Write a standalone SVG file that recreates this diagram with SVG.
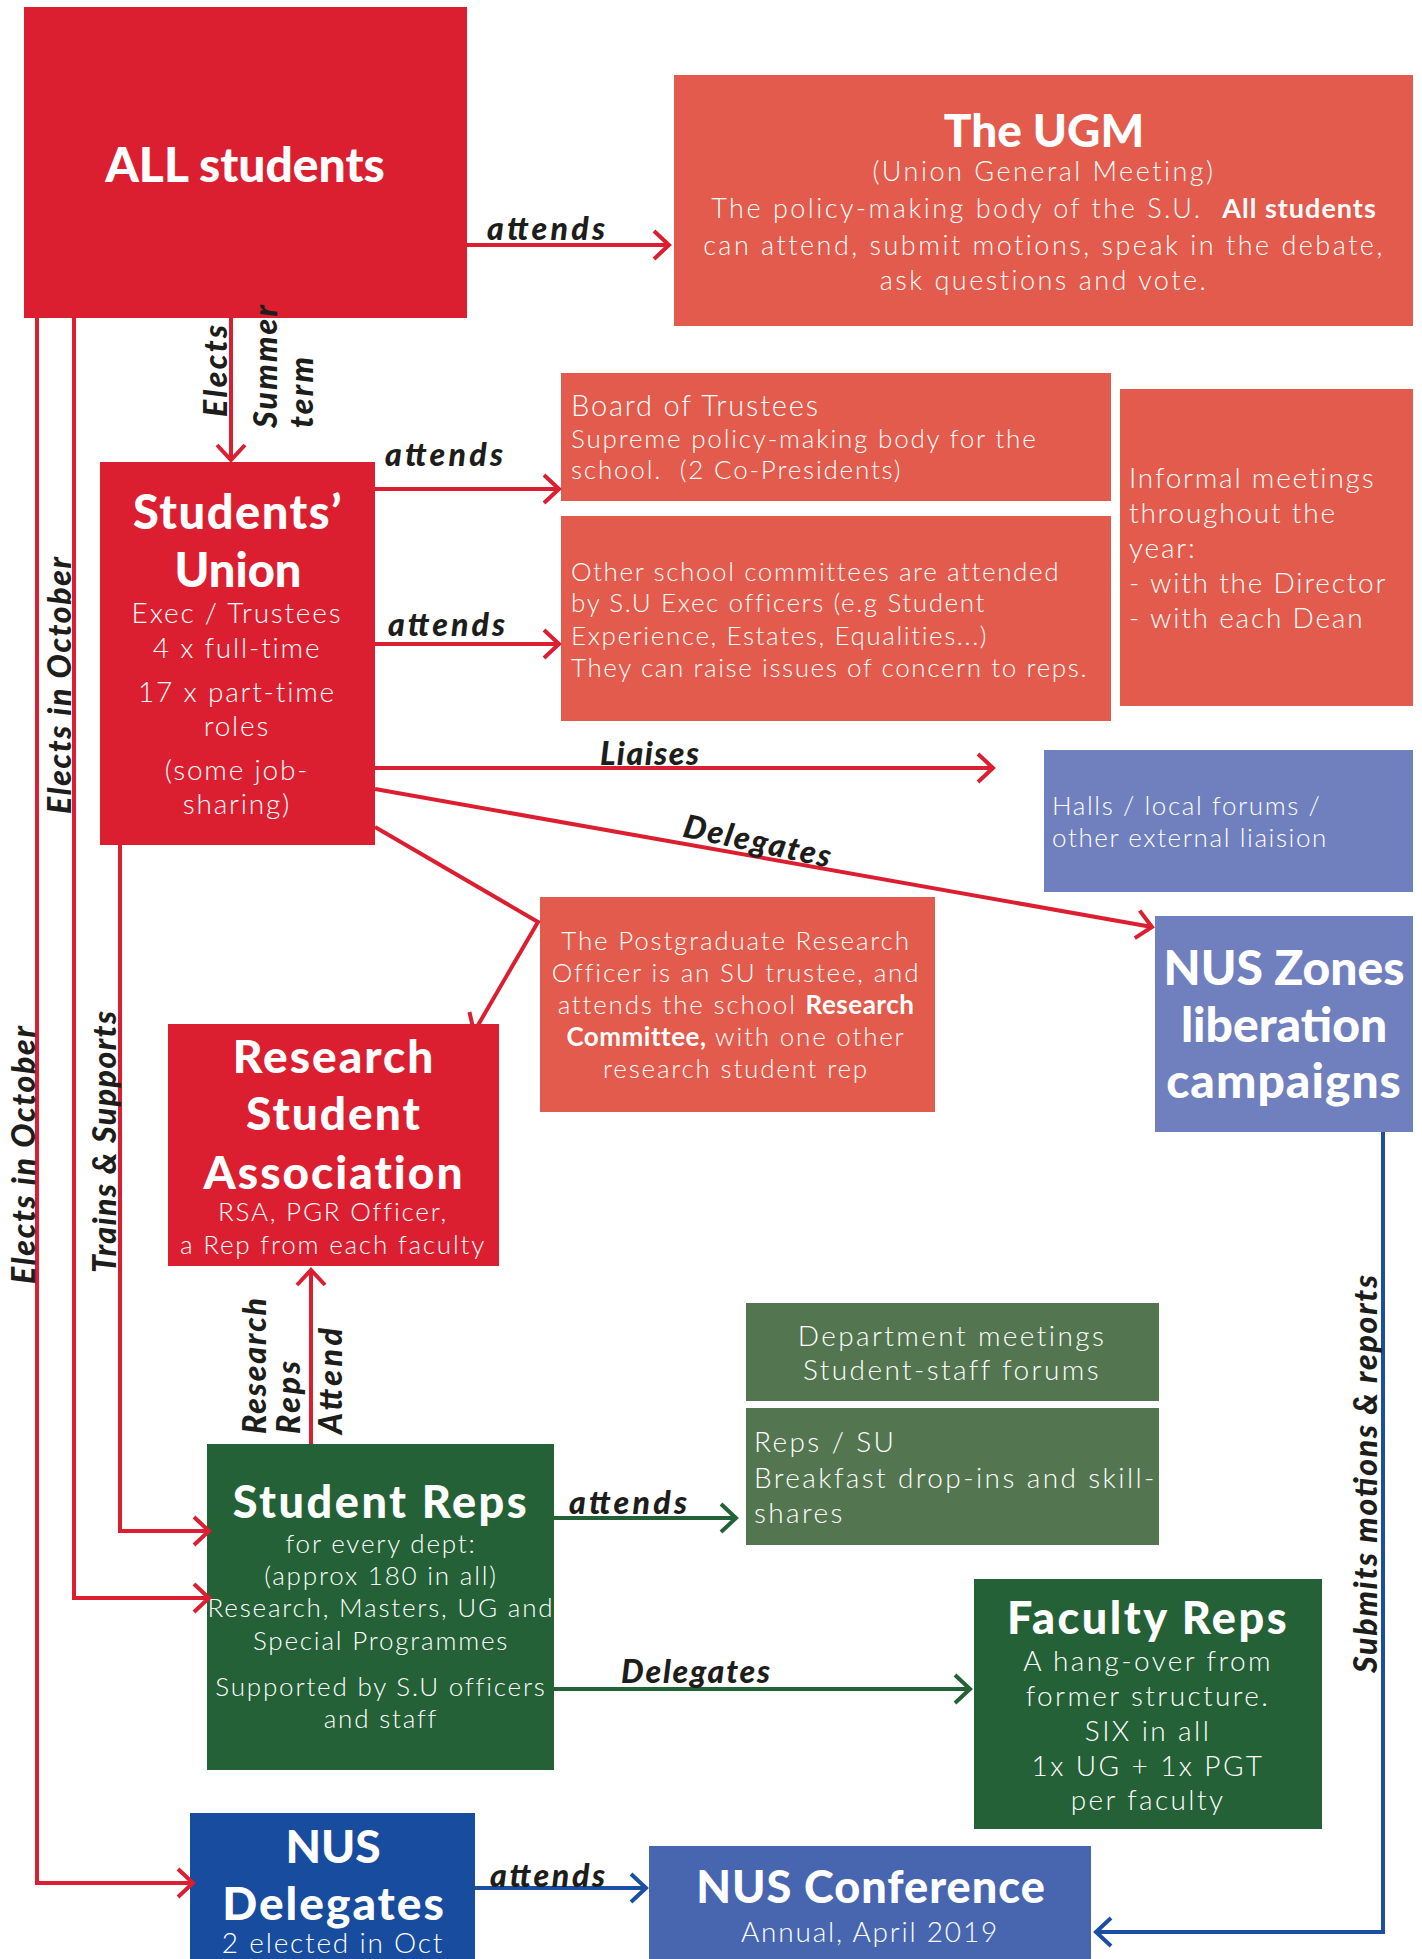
<svg xmlns="http://www.w3.org/2000/svg" width="1422" height="1959" viewBox="0 0 1422 1959">
  <style>
    .t { font-family: "Lato", "Open Sans", "Liberation Sans", sans-serif; font-weight: 900; fill: #ffffff; text-anchor: middle; }
    .b { font-family: "Lato", "Open Sans", "Liberation Sans", sans-serif; font-weight: 300; fill: #ffffff; letter-spacing: 1.8px; }
    .w { letter-spacing: 2.4px; }
    .c { text-anchor: middle; }
    .s { font-weight: 700; }
    .l { font-family: "Lato", "Open Sans", "Liberation Sans", sans-serif; font-weight: 900; font-style: italic; fill: #1d1d1b; font-size: 32px; }
    .red { fill: #db1f30; }
    .salmon { fill: #e25b4c; }
    .lilac { fill: #7080bf; }
    .dgreen { fill: #246137; }
    .mgreen { fill: #537650; }
    .blue { fill: #174c9f; }
    .conf { fill: #4866b0; }
    .wr { fill: none; stroke: #db1f30; stroke-width: 4; stroke-linejoin: miter; }
    .wg { fill: none; stroke: #246137; stroke-width: 4; }
    .wb { fill: none; stroke: #1b4fa3; stroke-width: 4; }
  </style>
  <defs>
    <marker id="ar" viewBox="-20 -18 24 36" markerWidth="24" markerHeight="36" refX="0" refY="0" orient="auto" markerUnits="userSpaceOnUse">
      <path d="M-15,-14 L0,0 L-15,14" fill="none" stroke="#db1f30" stroke-width="4"/>
    </marker>
    <marker id="ag" viewBox="-20 -18 24 36" markerWidth="24" markerHeight="36" refX="0" refY="0" orient="auto" markerUnits="userSpaceOnUse">
      <path d="M-15,-14 L0,0 L-15,14" fill="none" stroke="#246137" stroke-width="4"/>
    </marker>
    <marker id="ab" viewBox="-20 -18 24 36" markerWidth="24" markerHeight="36" refX="0" refY="0" orient="auto" markerUnits="userSpaceOnUse">
      <path d="M-15,-14 L0,0 L-15,14" fill="none" stroke="#1b4fa3" stroke-width="4"/>
    </marker>
  </defs>

  <rect width="1422" height="1959" fill="#ffffff"/>

  <!-- nodes -->
  <g id="all-students">
    <rect class="red" x="24" y="7" width="443" height="311"/>
    <text class="t" x="245" y="182" font-size="48">ALL students</text>
  </g>

  <g id="ugm">
    <rect class="salmon" x="674" y="75" width="739" height="251"/>
    <text class="t" x="1044" y="147" font-size="46">The UGM</text>
    <text class="b c" x="1044" font-size="27" style="letter-spacing:2.5px" xml:space="preserve"><tspan x="1044" y="181">(Union General Meeting)</tspan><tspan x="1044" y="218">The policy-making body of the S.U.  <tspan class="s" style="letter-spacing:1px">All students</tspan></tspan><tspan x="1044" y="255">can attend, submit motions, speak in the debate,</tspan><tspan x="1044" y="290">ask questions and vote.</tspan></text>
  </g>

  <g id="students-union">
    <rect class="red" x="100" y="462" width="275" height="383"/>
    <text class="t" x="238" y="529" font-size="47" style="letter-spacing:1.5px">Students’</text>
    <text class="t" x="238" y="587" font-size="47">Union</text>
    <text class="b c" font-size="28"><tspan x="237" y="623">Exec / Trustees</tspan><tspan x="237" y="658">4 x full-time</tspan><tspan x="237" y="702">17 x part-time</tspan><tspan x="237" y="736">roles</tspan><tspan x="237" y="780">(some job-</tspan><tspan x="237" y="814">sharing)</tspan></text>
  </g>

  <g id="board-of-trustees">
    <rect class="salmon" x="561" y="373" width="550" height="128"/>
    <text class="b" x="571" y="416" font-size="29">Board of Trustees</text>
    <text class="b" font-size="26" xml:space="preserve"><tspan x="571" y="448">Supreme policy-making body for the</tspan><tspan x="571" y="479">school.  (2 Co-Presidents)</tspan></text>
  </g>

  <g id="school-committees">
    <rect class="salmon" x="561" y="516" width="550" height="205"/>
    <text class="b" font-size="26" style="letter-spacing:1.6px"><tspan x="571" y="581">Other school committees are attended</tspan><tspan x="571" y="612">by S.U Exec officers (e.g Student</tspan><tspan x="571" y="645">Experience, Estates, Equalities...)</tspan><tspan x="571" y="677">They can raise issues of concern to reps.</tspan></text>
  </g>

  <g id="informal-meetings">
    <rect class="salmon" x="1120" y="389" width="293" height="317"/>
    <text class="b" font-size="28"><tspan x="1129" y="488">Informal meetings</tspan><tspan x="1129" y="523">throughout the</tspan><tspan x="1129" y="558">year:</tspan><tspan x="1129" y="593">- with the Director</tspan><tspan x="1129" y="628">- with each Dean</tspan></text>
  </g>

  <g id="halls-liaison">
    <rect class="lilac" x="1044" y="750" width="369" height="142"/>
    <text class="b" font-size="26" style="letter-spacing:1.6px"><tspan x="1052" y="815">Halls / local forums /</tspan><tspan x="1052" y="847">other external liaision</tspan></text>
  </g>

  <g id="nus-zones">
    <rect class="lilac" x="1155" y="916" width="258" height="216"/>
    <text class="t" x="1284" y="985" font-size="48">NUS Zones</text>
    <text class="t" x="1284" y="1042" font-size="48">liberation</text>
    <text class="t" x="1284" y="1098" font-size="48" style="letter-spacing:1px">campaigns</text>
  </g>

  <g id="pgr-officer">
    <rect class="salmon" x="540" y="897" width="395" height="215"/>
    <text class="b c" font-size="26"><tspan x="736" y="950">The Postgraduate Research</tspan><tspan x="736" y="982">Officer is an SU trustee, and</tspan><tspan x="736" y="1014">attends the school <tspan class="s" style="letter-spacing:0.5px">Research</tspan></tspan><tspan x="736" y="1046"><tspan class="s" style="letter-spacing:0.5px">Committee,</tspan> with one other</tspan><tspan x="736" y="1078">research student rep</tspan></text>
  </g>

  <g id="research-student-association">
    <rect class="red" x="168" y="1024" width="331" height="242"/>
    <text class="t" x="334" y="1073" font-size="46" style="letter-spacing:2px">Research</text>
    <text class="t" x="334" y="1130" font-size="46" style="letter-spacing:2px">Student</text>
    <text class="t" x="334" y="1189" font-size="46" style="letter-spacing:2px">Association</text>
    <text class="b c" font-size="26"><tspan x="333" y="1221">RSA, PGR Officer,</tspan><tspan x="333" y="1254">a Rep from each faculty</tspan></text>
  </g>

  <g id="department-meetings">
    <rect class="mgreen" x="746" y="1303" width="413" height="98"/>
    <text class="b w c" font-size="28"><tspan x="952" y="1346">Department meetings</tspan><tspan x="952" y="1380">Student-staff forums</tspan></text>
  </g>

  <g id="reps-su-dropins">
    <rect class="mgreen" x="746" y="1408" width="413" height="137"/>
    <text class="b w" font-size="28"><tspan x="754" y="1452">Reps / SU</tspan><tspan x="754" y="1488">Breakfast drop-ins and skill-</tspan><tspan x="754" y="1523">shares</tspan></text>
  </g>

  <g id="student-reps">
    <rect class="dgreen" x="207" y="1444" width="347" height="326"/>
    <text class="t" x="381" y="1518" font-size="45" style="letter-spacing:2.5px">Student Reps</text>
    <text class="b c" font-size="26"><tspan x="381" y="1553">for every dept:</tspan><tspan x="381" y="1585">(approx 180 in all)</tspan><tspan x="381" y="1617">Research, Masters, UG and</tspan><tspan x="381" y="1650">Special Programmes</tspan><tspan x="381" y="1696">Supported by S.U officers</tspan><tspan x="381" y="1728">and staff</tspan></text>
  </g>

  <g id="faculty-reps">
    <rect class="dgreen" x="974" y="1579" width="348" height="250"/>
    <text class="t" x="1148" y="1634" font-size="45" style="letter-spacing:2.5px">Faculty Reps</text>
    <text class="b w c" font-size="28"><tspan x="1148" y="1671">A hang-over from</tspan><tspan x="1148" y="1706">former structure.</tspan><tspan x="1148" y="1741">SIX in all</tspan><tspan x="1148" y="1776">1x UG + 1x PGT</tspan><tspan x="1148" y="1810">per faculty</tspan></text>
  </g>

  <g id="nus-delegates">
    <rect class="blue" x="190" y="1813" width="285" height="146"/>
    <text class="t" x="333" y="1863" font-size="46">NUS</text>
    <text class="t" x="334" y="1920" font-size="46" style="letter-spacing:2px">Delegates</text>
    <text class="b c" x="333" y="1953" font-size="28">2 elected in Oct</text>
  </g>

  <g id="nus-conference">
    <rect class="conf" x="649" y="1846" width="442" height="113"/>
    <text class="t" x="871" y="1903" font-size="45" style="letter-spacing:1px">NUS Conference</text>
    <text class="b c" x="870" y="1942" font-size="28">Annual, April 2019</text>
  </g>

  <!-- connectors -->
  <g id="connectors">
    <path class="wr" d="M467,245 H669" marker-end="url(#ar)"/>
    <path class="wr" d="M231,318 V460" marker-end="url(#ar)"/>
    <path class="wr" d="M375,489 H559" marker-end="url(#ar)"/>
    <path class="wr" d="M375,644 H559" marker-end="url(#ar)"/>
    <path class="wr" d="M375,768 H993" marker-end="url(#ar)"/>
    <path class="wr" d="M375,789 L1152,927" marker-end="url(#ar)"/>
    <path class="wr" d="M375,827 L538,922 L474,1032" marker-end="url(#ar)"/>
    <path class="wr" d="M74,318 V1598 H209" marker-end="url(#ar)"/>
    <path class="wr" d="M37,318 V1883 H193" marker-end="url(#ar)"/>
    <path class="wr" d="M120,845 V1531 H209" marker-end="url(#ar)"/>
    <path class="wr" d="M311,1444 V1270" marker-end="url(#ar)"/>
    <path class="wg" d="M554,1518 H736" marker-end="url(#ag)"/>
    <path class="wg" d="M554,1689 H970" marker-end="url(#ag)"/>
    <path class="wb" d="M475,1888 H646" marker-end="url(#ab)"/>
    <path class="wb" d="M1383,1132 V1932 H1096" marker-end="url(#ab)"/>

    <!-- connector labels -->
    <text class="l" x="487" y="240" textLength="118">attends</text>
    <text class="l" transform="translate(227,417) rotate(-90)" textLength="92">Elects</text>
    <text class="l" transform="translate(277,428) rotate(-90)" textLength="123">Summer</text>
    <text class="l" transform="translate(313,428) rotate(-90)" textLength="71">term</text>
    <text class="l" x="385" y="466" textLength="118">attends</text>
    <text class="l" x="388" y="636" textLength="117">attends</text>
    <text class="l" x="600" y="765" textLength="99">Liaises</text>
    <text class="l" transform="translate(755,852) rotate(12)" text-anchor="middle" textLength="150">Delegates</text>
    <text class="l" transform="translate(71,814) rotate(-90)" textLength="257">Elects in October</text>
    <text class="l" transform="translate(35,1284) rotate(-90)" textLength="258">Elects in October</text>
    <text class="l" transform="translate(116,1273) rotate(-90)" textLength="262">Trains &amp; Supports</text>
    <text class="l" transform="translate(266,1434) rotate(-90)" textLength="136">Research</text>
    <text class="l" transform="translate(300,1434) rotate(-90)" textLength="73">Reps</text>
    <text class="l" transform="translate(342,1434) rotate(-90)" textLength="106">Attend</text>
    <text class="l" x="569" y="1514" textLength="118">attends</text>
    <text class="l" x="621" y="1683" textLength="149">Delegates</text>
    <text class="l" transform="translate(1377,1673) rotate(-90)" textLength="398">Submits motions &amp; reports</text>
    <text class="l" x="490" y="1887" textLength="115">attends</text>
  </g>
</svg>
